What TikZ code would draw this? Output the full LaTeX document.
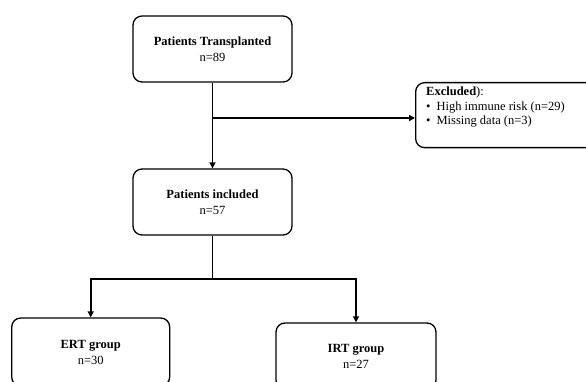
\documentclass[tikz,border=0pt]{standalone}
\usepackage{fontspec}
\setmainfont{Liberation Serif}
\usetikzlibrary{arrows.meta,calc}
\begin{document}
\begin{tikzpicture}[x=1pt,y=-1pt,
  box/.style={draw, line width=1.3pt, rounded corners=9pt, align=center, font=\fontsize{12.5}{16}\selectfont, inner sep=0pt},
  conn/.style={line width=1.8pt},
  arr/.style={conn, -{Triangle[length=6pt,width=6pt]}}]
\useasboundingbox (0,0) rectangle (586,382);
\clip (0,0) rectangle (586,382);
\node[box, minimum width=159pt, minimum height=66pt] (top) at (212.5,49) {\textbf{Patients Transplanted}\\n=89};
\node[box, minimum width=159pt, minimum height=66pt] (mid) at (212.5,202) {\textbf{Patients included}\\n=57};
\node[box, minimum width=158pt, minimum height=68pt] (ert) at (90.7,352) {\textbf{ERT group}\\n=30};
\node[box, minimum width=160pt, minimum height=66pt] (irt) at (356,356) {\textbf{IRT group}\\n=27};
\node[box, minimum width=190pt, minimum height=65pt, anchor=north west] (ex) at (415,82) {};
\node[anchor=north west, align=left, inner sep=0pt, font=\fontsize{12.5}{14.5}\selectfont] (extext) at (426,87)
  {\textbf{Excluded}):\\\textbullet\hspace{6pt}High immune risk (n=29)\\\textbullet\hspace{6pt}Missing data (n=3)};
\coordinate (j1) at (212.5,118);
\coordinate (j2) at (212.5,279);
\draw[arr] (top.south) -- (mid.north);
\draw[arr] (j1) -- (j1 -| ex.west);
\draw[conn] (mid.south) -- (j2);
\draw[arr] (j2) -| (ert.north);
\draw[arr] (j2) -| (irt.north);
\end{tikzpicture}
\end{document}
